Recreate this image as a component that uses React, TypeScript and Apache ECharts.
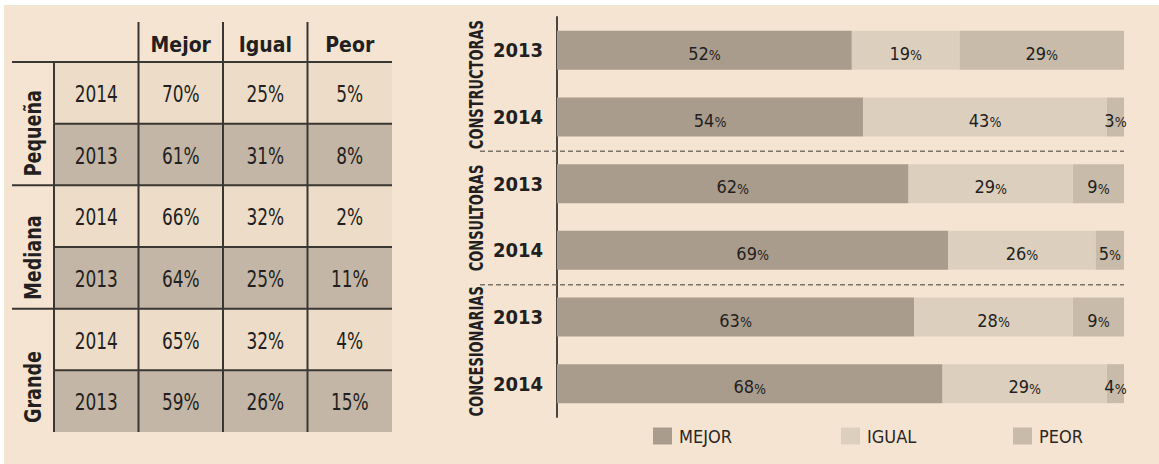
import React, { useEffect, useRef } from "react";
import * as echarts from "echarts";

// ---------- data ----------
const tableHeaders = ["", "Mejor", "Igual", "Peor"];
const tableGroups = ["Pequeña", "Mediana", "Grande"];
const tableYears = ["2014", "2013", "2014", "2013", "2014", "2013"];
const tableMejor = [70, 61, 66, 64, 65, 59];
const tableIgual = [25, 31, 32, 25, 32, 26];
const tablePeor = [5, 8, 2, 11, 4, 15];

const barGroups = ["CONSTRUCTORAS", "CONSULTORAS", "CONCESIONARIAS"];
const barYears = ["2013", "2014", "2013", "2014", "2013", "2014"];
const barMejor = [52, 54, 62, 69, 63, 68];
const barIgual = [19, 43, 29, 26, 28, 29];
const barPeor = [29, 3, 9, 5, 9, 4];
const seriesNames = ["MEJOR", "IGUAL", "PEOR"];

// ---------- styles ----------
const FONT = "'DejaVu Sans Condensed', 'Liberation Sans Narrow', sans-serif";
const BG = "#f5e4d2";
const C_MEJOR = "#a99c8d";
const C_IGUAL = "#ddcfbe";
const C_PEOR = "#c8bbaa";
const ROW_LIGHT = "#ecdcc8";
const ROW_DARK = "#c3b6a6";
const LINE = "#3a3632";
const TXT = "#231f20";

export default function App() {
  const ref = useRef<HTMLDivElement>(null);

  useEffect(() => {
    if (!ref.current) return;
    const chart = echarts.init(ref.current, undefined, { renderer: "svg" });

    const rowIds = tableYears.map((y, i) => `${tableGroups[Math.floor(i / 2)]}-${y}`);
    const tableCols = [tableYears, tableMejor, tableIgual, tablePeor];
    const tableData: any[] = [];
    for (let r = 0; r < tableYears.length; r++) {
      for (let c = 0; c < 4; c++) {
        const v = tableCols[c][r];
        tableData.push([c, r, c === 0 ? String(v) : `${v}%`]);
      }
    }

    const barCats = barYears.map((y, i) => `${barGroups[Math.floor(i / 2)]}-${y}`);
    const barSeriesData = [barMejor, barIgual, barPeor];
    const barColors = [C_MEJOR, C_IGUAL, C_PEOR];

    const legendLefts = [648, 836, 1008];

    const option: any = {
      animation: false,
      backgroundColor: "#ffffff",
      textStyle: { fontFamily: FONT },
      graphic: [
        {
          type: "rect",
          z: -10,
          shape: { x: 4, y: 5, width: 1155, height: 459 },
          style: { fill: BG },
          silent: true,
        },
      ],
      legend: seriesNames.map((n, i) => ({
        left: legendLefts[i],
        top: 422,
        icon: "rect",
        itemWidth: 19,
        itemHeight: 17,
        itemGap: 0,
        data: [n],
        selectedMode: false,
        textStyle: { fontFamily: FONT, fontSize: 18, color: "#2b2724", padding: [0, 0, 0, 2] },
      })),
      grid: [
        { left: 557, top: 17, width: 567, height: 400 },
        { left: 54, top: 62, width: 338, height: 370 },
      ],
      xAxis: [
        { type: "value", gridIndex: 0, min: 0, max: 100, show: false },
        {
          type: "category",
          gridIndex: 1,
          position: "top",
          data: tableHeaders,
          axisLine: { show: false },
          axisTick: { show: false },
          axisLabel: {
            interval: 0,
            margin: 7,
            fontFamily: FONT,
            fontWeight: "bold",
            fontSize: 21,
            color: TXT,
          },
        },
      ],
      yAxis: [
        {
          type: "category",
          gridIndex: 0,
          inverse: true,
          data: barCats,
          axisLine: { show: true, lineStyle: { color: "#4a4642", width: 2 } },
          axisTick: { show: false },
          axisLabel: {
            interval: 0,
            margin: 14,
            fontFamily: FONT,
            fontWeight: "bold",
            fontSize: 20,
            color: TXT,
            formatter: (v: string) => v.split("-")[1],
          },
        },
        {
          type: "category",
          gridIndex: 1,
          inverse: true,
          data: rowIds,
          show: false,
        },
      ],
      series: [
        ...seriesNames.map((n, i) => ({
          name: n,
          type: "bar",
          stack: "total",
          xAxisIndex: 0,
          yAxisIndex: 0,
          barWidth: 39,
          itemStyle: { color: barColors[i] },
          label: {
            show: true,
            position: "inside",
            offset: [0, 2],
            formatter: (p: any) => `{n|${p.value}}{p|%}`,
            rich: {
              n: { fontFamily: FONT, fontSize: 18, color: TXT, verticalAlign: "bottom", lineHeight: 20 },
              p: { fontFamily: FONT, fontSize: 14, color: TXT, verticalAlign: "bottom", lineHeight: 20 },
            },
          },
          data: barSeriesData[i],
        })),
        {
          type: "custom",
          name: "groups",
          xAxisIndex: 0,
          yAxisIndex: 0,
          silent: true,
          data: barGroups.map((g, i) => [0, i * 2, g]),
          encode: { x: 0, y: 1 },
          renderItem: (params: any, api: any) => {
            const row = api.value(1);
            const idx = params.dataIndex;
            const c = api.coord([0, row]);
            const right = api.coord([100, row])[0];
            const h = api.size([0, 1])[1];
            const children: any[] = [
              {
                type: "text",
                x: c[0] - 81,
                y: c[1] + h / 2 + 1,
                rotation: Math.PI / 2,
                scaleX: 0.76,
                style: {
                  text: barGroups[idx],
                  fontFamily: FONT,
                  fontWeight: "bold",
                  fontSize: 19,
                  fill: TXT,
                  align: "center",
                  verticalAlign: "middle",
                },
              },
            ];
            if (idx < barGroups.length - 1) {
              const yy = c[1] + h * 1.5 + 1;
              children.push({
                type: "line",
                shape: { x1: c[0] - 77, y1: yy, x2: right, y2: yy },
                style: { stroke: "#7a736c", lineWidth: 1.5, lineDash: [5, 3] },
              });
            }
            return { type: "group", children };
          },
        },
        {
          type: "custom",
          name: "table",
          xAxisIndex: 1,
          yAxisIndex: 1,
          silent: true,
          data: tableData,
          encode: { x: 0, y: 1 },
          renderItem: (params: any, api: any) => {
            const c = api.value(0);
            const r = api.value(1);
            const text = tableData[params.dataIndex][2];
            const center = api.coord([c, r]);
            const size = api.size([1, 1]);
            const w = size[0];
            const h = size[1];
            const x0 = center[0] - w / 2;
            const y0 = center[1] - h / 2;
            const groupStart = r % 2 === 0;
            const children: any[] = [
              {
                type: "rect",
                z2: 0,
                shape: { x: x0, y: y0, width: w, height: h },
                style: { fill: r % 2 === 0 ? ROW_LIGHT : ROW_DARK },
              },
              {
                type: "text",
                z2: 5,
                x: center[0],
                y: center[1] + 1,
                scaleX: 0.82,
                style: {
                  text,
                  fontFamily: FONT,
                  fontSize: 23,
                  fill: TXT,
                  align: "center",
                  verticalAlign: "middle",
                },
              },
              {
                type: "line",
                z2: 10,
                shape: {
                  x1: c === 0 && groupStart ? x0 - 42 : x0,
                  y1: y0,
                  x2: x0 + w,
                  y2: y0,
                },
                style: { stroke: LINE, lineWidth: 2 },
              },
              {
                type: "line",
                z2: 10,
                shape: {
                  x1: x0,
                  y1: r === 0 && c > 0 ? y0 - 40 : y0,
                  x2: x0,
                  y2: y0 + h,
                },
                style: { stroke: LINE, lineWidth: 2 },
              },
            ];
            if (c === 0 && groupStart) {
              children.push({
                type: "text",
                z2: 5,
                x: x0 - 21,
                y: y0 + 2 * h - 9,
                rotation: Math.PI / 2,
                scaleX: 0.85,
                style: {
                  text: tableGroups[r / 2],
                  fontFamily: FONT,
                  fontWeight: "bold",
                  fontSize: 23,
                  fill: TXT,
                  align: "left",
                  verticalAlign: "middle",
                },
              });
            }
            return { type: "group", children };
          },
        },
      ],
    };

    chart.setOption(option);
    return () => chart.dispose();
  }, []);

  return (
    <div
      ref={ref}
      style={{ position: "absolute", left: 0, top: 0, width: 1159, height: 464 }}
    />
  );
}
